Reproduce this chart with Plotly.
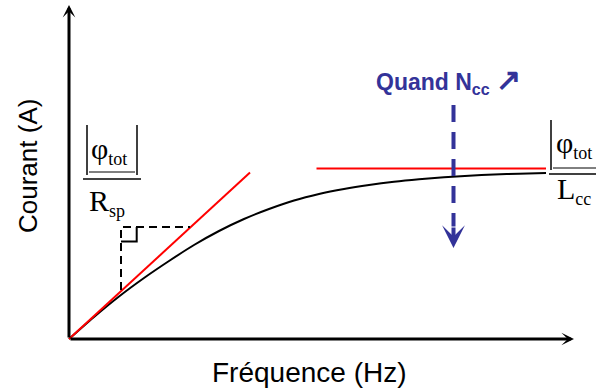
import plotly.graph_objects as go

# ---- data (arbitrary units: frequency vs current) ----
freq = [0, 0.5, 1.0, 1.5, 2.0, 2.5, 3.0, 3.5, 4.0, 4.5, 5.0, 5.5, 6.0, 6.5, 7.0, 7.5, 8.0, 8.5, 9.0, 9.54]
current = [0, 0.44, 0.85, 1.22, 1.56, 1.88, 2.16, 2.40, 2.60, 2.77, 2.90, 3.00, 3.08, 3.145, 3.195, 3.235,
           3.265, 3.29, 3.305, 3.32]
tangent_f = [0, 3.62]
tangent_i = [0, 3.33]
plateau_f = [4.95, 9.54]
plateau_i = [3.41, 3.41]
slope_f = [1.04, 1.04, 2.42]
slope_i = [0.98, 2.24, 2.24]
square_f = [1.04, 1.354, 1.354]
square_i = [1.95, 1.95, 2.24]
ncc_f = [7.69, 7.69]
ncc_i = [4.68, 2.25]

BLUE = "#333399"
SERIF = "Liberation Serif, Times New Roman, serif"
SANS = "Arial, Liberation Sans, sans-serif"


def X(px):
    return (px - 69) / 50.0


def Y(py):
    return (339 - py) / 50.0


fig = go.Figure()
fig.add_trace(go.Scatter(x=freq, y=current, mode="lines", line=dict(color="black", width=2, shape="spline", smoothing=0.8), hoverinfo="skip"))
fig.add_trace(go.Scatter(x=tangent_f, y=tangent_i, mode="lines", line=dict(color="#ff0000", width=2), hoverinfo="skip"))
fig.add_trace(go.Scatter(x=plateau_f, y=plateau_i, mode="lines", line=dict(color="#ff0000", width=2), hoverinfo="skip"))
fig.add_trace(go.Scatter(x=slope_f, y=slope_i, mode="lines", line=dict(color="black", width=2, dash="8px,5px"), hoverinfo="skip"))
fig.add_trace(go.Scatter(x=square_f, y=square_i, mode="lines", line=dict(color="black", width=2), hoverinfo="skip"))
fig.add_trace(go.Scatter(x=ncc_f, y=ncc_i, mode="lines", line=dict(color=BLUE, width=4, dash="17px,10px"), hoverinfo="skip"))

ann = []
# axes arrows
ann.append(dict(x=X(574), y=0, ax=0, ay=0, xref="x", yref="y", axref="x", ayref="y", showarrow=True,
                arrowhead=3, arrowsize=0.7, arrowwidth=3, arrowcolor="black", text="", standoff=0, startstandoff=0))
ann.append(dict(x=0, y=Y(5), ax=0, ay=0, xref="x", yref="y", axref="x", ayref="y", showarrow=True,
                arrowhead=3, arrowsize=0.7, arrowwidth=3, arrowcolor="black", text="", standoff=0, startstandoff=0))
# blue arrow head
ann.append(dict(x=ncc_f[0], y=Y(248), ax=ncc_f[0], ay=Y(226), xref="x", yref="y", axref="x", ayref="y", showarrow=True,
                arrowhead=3, arrowsize=0.95, arrowwidth=4, arrowcolor=BLUE, text="", standoff=0))

# axis titles
ann.append(dict(x=X(28), y=Y(166), xref="x", yref="y", text="Courant (A)", showarrow=False, textangle=-90,
                font=dict(family=SANS, size=26, color="black")))
ann.append(dict(x=X(309), y=Y(372), xref="x", yref="y", text="Fréquence (Hz)", showarrow=False,
                font=dict(family=SANS, size=28, color="black")))
# Quand Ncc
ann.append(dict(x=X(374), y=Y(80), xref="x", yref="y", xanchor="left",
                text='<b>Quand N<sub>cc</sub> <span style="font-size:30px">↗</span></b>', showarrow=False,
                font=dict(family=SANS, size=23, color=BLUE)))
SUB = '<sub><span style="font-size:18px">%s</span></sub>'
# left fraction
ann.append(dict(x=X(89), y=Y(150), xref="x", yref="y", xanchor="left", text="φ" + SUB % "tot", showarrow=False,
                font=dict(family=SERIF, size=30, color="black")))
ann.append(dict(x=X(87), y=Y(202), xref="x", yref="y", xanchor="left", text="R" + SUB % "sp", showarrow=False,
                font=dict(family=SERIF, size=30, color="black")))
# right fraction
ann.append(dict(x=X(554), y=Y(144), xref="x", yref="y", xanchor="left", text="φ" + SUB % "tot", showarrow=False,
                font=dict(family=SERIF, size=30, color="black")))
ann.append(dict(x=X(555), y=Y(190), xref="x", yref="y", xanchor="left", text="L" + SUB % "cc", showarrow=False,
                font=dict(family=SERIF, size=30, color="black")))

shapes = []


def seg(x0, y0, x1, y1, w=1.5):
    shapes.append(dict(type="line", xref="x", yref="y", x0=X(x0), y0=Y(y0), x1=X(x1), y1=Y(y1),
                       line=dict(color="black", width=w)))


# left |phi_tot| / R_sp
seg(87, 125, 87, 175)
seg(137, 125, 137, 175)
seg(89, 172, 135, 172, 1)
seg(83, 179, 141, 179, 1.5)
# right |phi_tot| / L_cc
seg(551, 120, 551, 170)
seg(600, 120, 600, 170)
seg(553, 168, 598, 168, 1)
seg(549, 174, 598, 174, 1.5)

fig.update_layout(
    width=596, height=390, margin=dict(l=0, r=0, t=0, b=0),
    paper_bgcolor="white", plot_bgcolor="white", showlegend=False,
    xaxis=dict(range=[X(0), X(596)], visible=False, fixedrange=True),
    yaxis=dict(range=[Y(390), Y(0)], visible=False, fixedrange=True),
    annotations=ann, shapes=shapes,
)
fig.write_html("out.html", config={"displayModeBar": False},
               post_script="document.body.style.margin='0';document.body.style.overflow='hidden';")
